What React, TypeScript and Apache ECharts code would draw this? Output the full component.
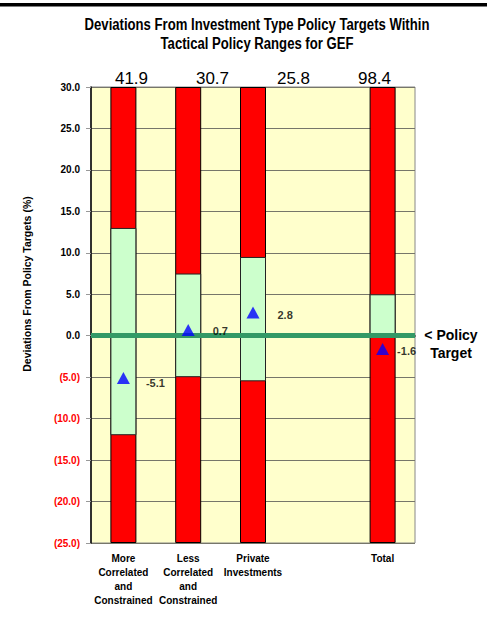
import React, { useEffect, useRef } from "react";
import * as echarts from "echarts";

const yMin = -25;
const yMax = 30;
const yStep = 5;
const policyTarget = 0;

const chartTitle = "Deviations From Investment Type Policy Targets Within\nTactical Policy Ranges for GEF";
const yAxisTitle = "Deviations From Policy Targets (%)";
const categories = [
  "More\nCorrelated\nand\nConstrained",
  "Less\nCorrelated\nand\nConstrained",
  "Private\nInvestments",
  "",
  "Total",
];
const rangeLow = [-12, -5, -5.5, null, 0];
const rangeHigh = [13, 7.5, 9.5, null, 5];
const actualDeviation = [-5.1, 0.7, 2.8, null, -1.6];
const currentAllocation = ["41.9", "30.7", "25.8", "98.4"];

const labelDistance = [16, 18, 18, 0, 8];
const labelDy = [5, 1, 2, 0, 2];

const ARIAL = "'Liberation Sans', Arial, sans-serif";

export default function App() {
  const ref = useRef<HTMLDivElement>(null);
  useEffect(() => {
    if (!ref.current) return;
    const chart = echarts.init(ref.current, null, { renderer: "svg" });
    const barBase = {
      type: "bar",
      barWidth: 26,
      barGap: "-100%",
      emphasis: { disabled: true },
    };
    chart.setOption({
      animation: false,
      backgroundColor: "#fff",
      graphic: [
        { type: "rect", left: 0, top: 3, shape: { width: 487, height: 3.5 }, style: { fill: "#000" } },
        {
          type: "text",
          x: 257,
          y: 15,
          scaleX: 0.82,
          style: {
            text: chartTitle,
            textAlign: "center",
            textVerticalAlign: "top",
            font: `bold 16px ${ARIAL}`,
            lineHeight: 19,
            fill: "#000",
          },
        },
        {
          type: "text",
          x: 27,
          y: 284,
          rotation: Math.PI / 2,
          style: {
            text: yAxisTitle,
            textAlign: "center",
            textVerticalAlign: "middle",
            font: `bold 10.5px ${ARIAL}`,
            fill: "#000",
          },
        },
      ],
      grid: {
        left: 91,
        right: 72,
        top: 87,
        bottom: 75,
        show: true,
        backgroundColor: "#FFFFCC",
        borderColor: "#888",
        borderWidth: 1,
      },
      xAxis: [
        {
          type: "category",
          data: categories,
          axisLine: { show: true, lineStyle: { color: "#000", width: 1.5 } },
          axisTick: { show: false },
          axisLabel: {
            interval: 0,
            margin: 8,
            fontFamily: ARIAL,
            fontWeight: "bold",
            fontSize: 10,
            lineHeight: 14,
            color: "#000",
          },
        },
        {
          type: "category",
          position: "top",
          data: currentAllocation,
          axisLine: { show: false },
          axisTick: { show: false },
          axisLabel: { margin: 0, fontFamily: ARIAL, fontSize: 17, color: "#000" },
        },
      ],
      yAxis: {
        type: "value",
        min: yMin,
        max: yMax,
        interval: yStep,
        axisLine: { show: true, lineStyle: { color: "#000", width: 1.5 } },
        axisTick: { show: true, length: 5, lineStyle: { color: "#999" } },
        splitLine: { show: true, lineStyle: { color: "#76766a", width: 1 } },
        axisLabel: {
          margin: 11,
          formatter: (v: number) =>
            v < 0 ? `{neg|(${(-v).toFixed(1)})}` : `{pos|${v.toFixed(1)}}`,
          rich: {
            neg: { color: "#FF0000", fontFamily: ARIAL, fontWeight: "bold", fontSize: 10 },
            pos: { color: "#000", fontFamily: ARIAL, fontWeight: "bold", fontSize: 10 },
          },
        },
      },
      series: [
        {
          ...barBase,
          name: "redTop",
          data: rangeLow.map((v) => (v == null ? "-" : yMax)),
          itemStyle: { color: "#FF0000", borderColor: "#000", borderWidth: 1 },
        },
        {
          ...barBase,
          name: "redBottom",
          data: rangeLow.map((v) => (v == null ? "-" : yMin)),
          itemStyle: { color: "#FF0000", borderColor: "#000", borderWidth: 1 },
        },
        {
          ...barBase,
          name: "rangeHigh",
          data: rangeHigh.map((v) => (v == null ? "-" : v)),
          itemStyle: { color: "#CCFFCC", borderColor: "#222", borderWidth: 1 },
        },
        {
          ...barBase,
          name: "rangeLow",
          data: rangeLow.map((v) => (v == null ? "-" : v)),
          itemStyle: { color: "#CCFFCC", borderColor: "#222", borderWidth: 1 },
          markLine: {
            silent: true,
            symbol: "none",
            lineStyle: { color: "#339966", width: 5, type: "solid" },
            label: {
              show: true,
              position: "end",
              distance: 10,
              padding: [16, 0, 0, 0],
              formatter: "{a|< Policy}\n{a|Target}",
              rich: {
                a: {
                  width: 52,
                  align: "center",
                  fontFamily: ARIAL,
                  fontWeight: "bold",
                  fontSize: 14,
                  lineHeight: 18,
                  color: "#000",
                },
              },
            },
            data: [{ yAxis: policyTarget }],
          },
        },
        {
          type: "scatter",
          name: "actual",
          symbol: "triangle",
          symbolSize: [13, 12],
          z: 5,
          itemStyle: { color: "#0000FF" },
          emphasis: { disabled: true },
          data: actualDeviation.map((v, i) =>
            v == null
              ? "-"
              : {
                  value: v,
                  label: {
                    show: true,
                    position: "right",
                    distance: labelDistance[i],
                    offset: [0, labelDy[i]],
                    formatter: (p: any) => `${p.value}`,
                    fontFamily: ARIAL,
                    fontWeight: "bold",
                    fontSize: 11,
                    color: "#000",
                  },
                }
          ),
        },
      ],
    });
    return () => chart.dispose();
  }, []);
  return (
    <div
      ref={ref}
      style={{ position: "fixed", left: 0, top: 0, width: 487, height: 618, background: "#fff" }}
    />
  );
}
